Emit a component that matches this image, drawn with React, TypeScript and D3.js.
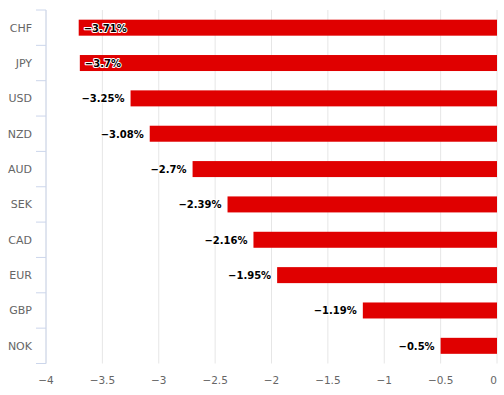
import React from "react";
import * as d3 from "d3";

const categories = ["CHF", "JPY", "USD", "NZD", "AUD", "SEK", "CAD", "EUR", "GBP", "NOK"];
const values = [-3.71, -3.7, -3.25, -3.08, -2.7, -2.39, -2.16, -1.95, -1.19, -0.5];
const xTicks = [-4, -3.5, -3, -2.5, -2, -1.5, -1, -0.5, 0];

const W = 504;
const H = 395;
const left = 46;
const right = 497;
const top = 10;
const bottom = 363.5;

const fmt = (v: number) => (v < 0 ? "\u2212" : "") + Math.abs(v) + "%";
const tickFmt = (v: number) => (v < 0 ? "\u2212" : "") + Math.abs(v);

export default function App() {
  const x = d3.scaleLinear().domain([-4, 0]).range([left, right]);
  const y = d3.scaleBand<string>().domain(categories).range([top, bottom]);
  const barH = 16;
  const font = "'DejaVu Sans', Verdana, sans-serif";
  return (
    <svg width={W} height={H} style={{ position: "absolute", left: 0, top: 0 }}>
      <rect width={W} height={H} fill="#fff" />
      {xTicks.map((t) => (
        <line key={"g" + t} x1={x(t)} x2={x(t)} y1={top} y2={bottom} stroke="#e6e6e6" strokeWidth={1} />
      ))}
      <line x1={left} x2={left} y1={top} y2={bottom} stroke="#ccd6eb" strokeWidth={1} />
      {d3.range(categories.length + 1).map((i) => {
        const yy = top + i * y.step();
        return <line key={"t" + i} x1={left - 10} x2={left} y1={yy} y2={yy} stroke="#ccd6eb" strokeWidth={1} />;
      })}
      {categories.map((c) => (
        <text key={c} x={left - 14} y={(y(c) as number) + y.bandwidth() / 2 + 4} textAnchor="end" fill="#666" fontSize={11} fontFamily={font}>
          {c}
        </text>
      ))}
      {xTicks.map((t, i) => (
        <text key={"l" + t} x={x(t)} y={384} textAnchor={i === xTicks.length - 1 ? "end" : "middle"} fill="#666" fontSize={10.5} fontFamily={font}>
          {tickFmt(t)}
        </text>
      ))}
      {values.map((v, i) => {
        const c = categories[i];
        const cy = (y(c) as number) + y.bandwidth() / 2;
        const x0 = x(v);
        const label = fmt(v);
        const estW = label.length * 7;
        const inside = x0 - 6 - estW < left;
        return (
          <g key={c}>
            <rect x={x0} y={cy - barH / 2} width={x(0) - x0} height={barH} fill="#e00000" />
            <text
              x={inside ? x0 + 5 : x0 - 6}
              y={cy + 4}
              textAnchor={inside ? "start" : "end"}
              fontSize={10}
              fontWeight="bold"
              fontFamily={font}
              fill="#000"
              stroke="#fff"
              strokeWidth={2}
              strokeLinejoin="round"
              paintOrder="stroke"
            >
              {label}
            </text>
          </g>
        );
      })}
    </svg>
  );
}
